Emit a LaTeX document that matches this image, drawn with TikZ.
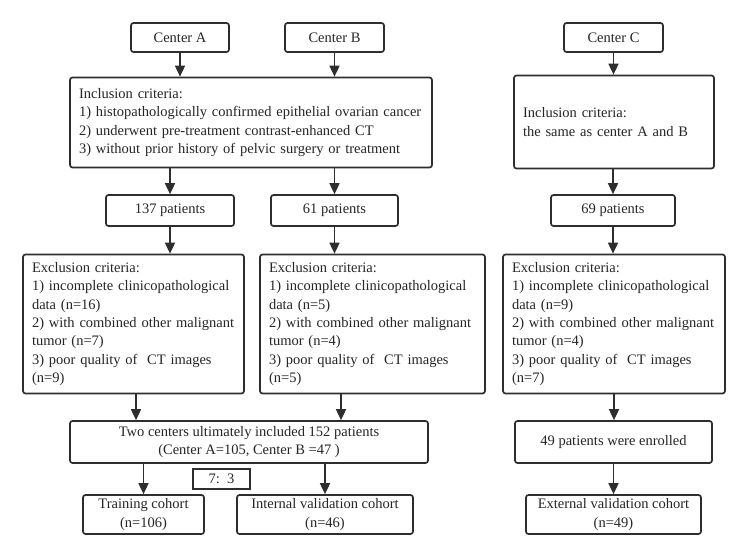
\documentclass[tikz,border=0pt]{standalone}
\usepackage{fontspec}
\setmainfont{Liberation Serif}
\usetikzlibrary{arrows.meta,calc}
\begin{document}
\begin{tikzpicture}[x=1pt,y=-1pt,
  box/.style={draw=black!82, line width=1.7pt, rounded corners=2.5pt, inner sep=0pt,
    text=black!85, font=\fontsize{14.5}{18.3}\selectfont, align=center},
  lbox/.style={box, align=left, inner xsep=9pt},
  arr/.style={draw=black!82, line width=1.7pt, -{Triangle[length=11pt,width=10pt]}}]
\useasboundingbox[fill=white] (0,0) rectangle (744,556);
% top row
\node[box, minimum width=98pt, minimum height=29pt] (ca) at (180,37.5) {Center A};
\node[box, minimum width=99pt, minimum height=29pt] (cb) at (334.5,37.5) {Center B};
\node[box, minimum width=99pt, minimum height=29pt] (cc) at (613.5,37.5) {Center C};
% inclusion
\node[lbox, minimum width=362pt, minimum height=90pt, text width=344pt] (inc) at (251,122.5)
  {Inclusion criteria:\\
   1) histopathologically confirmed epithelial ovarian cancer\\
   2) underwent pre-treatment contrast-enhanced CT\\
   3) without prior history of pelvic surgery or treatment};
\node[lbox, minimum width=200pt, minimum height=93pt, text width=182pt] (incc) at (614,122)
  {Inclusion criteria:\\ the same as center A and B};
% patients
\node[box, minimum width=128pt, minimum height=31pt] (pa) at (170,210.5) {137 patients};
\node[box, minimum width=127pt, minimum height=31pt] (pb) at (334.5,210.5) {61 patients};
\node[box, minimum width=124pt, minimum height=31pt] (pc) at (613,210.5) {69 patients};
% exclusion
\node[lbox, minimum width=221pt, minimum height=139pt, text width=203pt] (exa) at (133.5,324)
  {Exclusion criteria:\\ 1) incomplete clinicopathological\\ data (n=16)\\
   2) with combined other malignant\\ tumor (n=7)\\ 3) poor quality of\ \ CT images\\ (n=9)};
\node[lbox, minimum width=225pt, minimum height=139pt, text width=207pt] (exb) at (372.5,324)
  {Exclusion criteria:\\ 1) incomplete clinicopathological\\ data (n=5)\\
   2) with combined other malignant\\ tumor (n=4)\\ 3) poor quality of\ \ CT images\\ (n=5)};
\node[lbox, minimum width=222pt, minimum height=139pt, text width=204pt] (exc) at (614,324)
  {Exclusion criteria:\\ 1) incomplete clinicopathological\\ data (n=9)\\
   2) with combined other malignant\\ tumor (n=4)\\ 3) poor quality of\ \ CT images\\ (n=7)};
% included
\node[box, minimum width=358pt, minimum height=42pt] (two) at (249,442)
  {Two centers ultimately included 152 patients\\ (Center A=105, Center B =47 )};
\node[box, minimum width=197pt, minimum height=42pt] (enr) at (613.5,442) {49 patients were enrolled};
\node[box, rounded corners=0pt, line width=1.4pt, minimum width=57pt, minimum height=20pt] (ratio) at (221.5,479) {7:\ \ 3};
% cohorts
\node[box, minimum width=121pt, minimum height=39pt] (tr) at (143.5,514.5) {Training cohort\\ (n=106)};
\node[box, minimum width=176pt, minimum height=39pt] (iv) at (325,514.5) {Internal validation cohort\\ (n=46)};
\node[box, minimum width=175pt, minimum height=39pt] (ev) at (613.5,514.5) {External validation cohort\\ (n=49)};
% arrows
\draw[arr] (ca.south) -- (ca.south |- inc.north);
\draw[arr] (cb.south) -- (cb.south |- inc.north);
\draw[arr] (cc.south) -- (cc.south |- incc.north);
\draw[arr] (pa.north |- inc.south) -- (pa.north);
\draw[arr] (pb.north |- inc.south) -- (pb.north);
\draw[arr] (incc.south -| pc.north) -- (pc.north);
\draw[arr] (pa.south) -- (pa.south |- exa.north);
\draw[arr] (pb.south) -- (pb.south |- exb.north);
\draw[arr] (pc.south) -- (pc.south |- exc.north);
\draw[arr] ([xshift=2.5pt]exa.south) -- ([xshift=2.5pt]exa.south |- two.north);
\draw[arr] ([xshift=-31.5pt]exb.south) -- ([xshift=-31.5pt]exb.south |- two.north);
\draw[arr] (exc.south) -- (exc.south |- enr.north);
\draw[arr] (tr.north |- two.south) -- (tr.north);
\draw[arr] (iv.north |- two.south) -- (iv.north);
\draw[arr] (enr.south) -- (enr.south |- ev.north);
\end{tikzpicture}
\end{document}
